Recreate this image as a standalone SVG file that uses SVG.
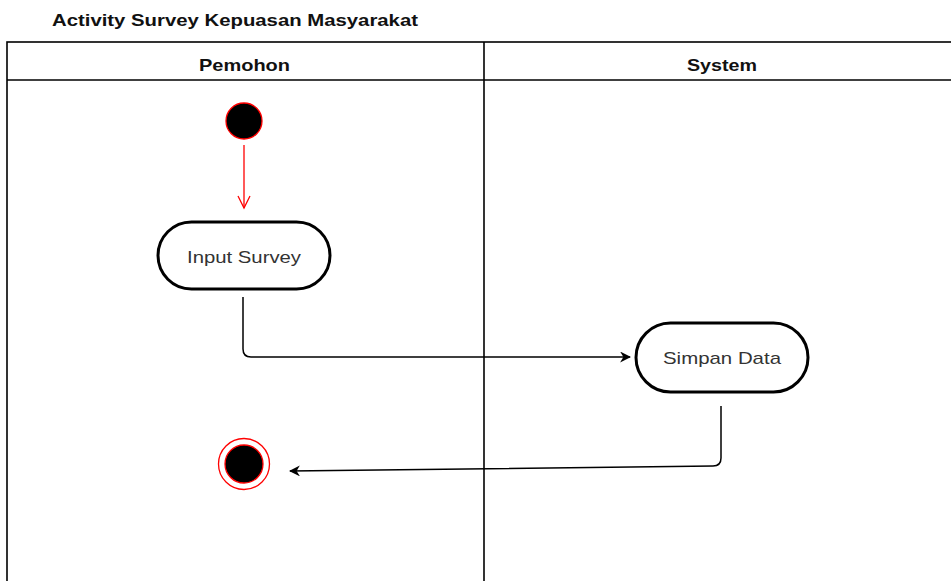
<svg xmlns="http://www.w3.org/2000/svg" width="951" height="581" viewBox="0 0 951 581">
<style>
text{font-family:"Liberation Sans",Arial,sans-serif;fill:#000}
.title{font-size:17px;font-weight:bold;fill:#111}
.hdr{font-size:17px;font-weight:bold;fill:#111}
.lbl{font-size:17px;fill:#333}
.lane{fill:#fff;stroke:#000;stroke-width:1.6}
.act{fill:#fff;stroke:#000;stroke-width:3}
.edge{fill:none;stroke:#000;stroke-width:1.5}
</style>
<defs>
<marker id="arr" viewBox="0 0 10 10" refX="9" refY="5" markerWidth="11" markerHeight="11" markerUnits="userSpaceOnUse" orient="auto">
<path d="M0,0 L10,5 L0,10 L3,5 Z" fill="#000"/>
</marker>
</defs>
<rect width="951" height="581" fill="#fff"/>
<text class="title" x="52" y="26" textLength="366" lengthAdjust="spacingAndGlyphs">Activity Survey Kepuasan Masyarakat</text>
<g id="pool">
<rect class="lane" x="7" y="42" width="960" height="560"/>
<line class="lane" x1="7" y1="80" x2="951" y2="80"/>
<line class="lane" x1="484" y1="42" x2="484" y2="581"/>
<text class="hdr" x="199" y="71" textLength="91" lengthAdjust="spacingAndGlyphs">Pemohon</text>
<text class="hdr" x="687" y="71" textLength="70" lengthAdjust="spacingAndGlyphs">System</text>
</g>
<g id="connectors">
<path d="M244,145 L244,208" fill="none" stroke="#ff0000" stroke-width="1.3"/>
<path d="M238,196 L244,208 L250,196" fill="none" stroke="#ff0000" stroke-width="1.3"/>
<path class="edge" d="M243,297 L243,349 Q243,357 251,357 L630,357" marker-end="url(#arr)"/>
<path class="edge" d="M721,406 L721,458 Q721,466 713,466 L290,471" marker-end="url(#arr)"/>
</g>
<g id="start">
<circle cx="244" cy="121" r="18" fill="#000" stroke="#ff0000" stroke-width="1.3"/>
</g>
<g id="input-survey">
<rect class="act" x="158" y="222" width="172" height="67" rx="33.5"/>
<text class="lbl" x="187" y="263" textLength="114" lengthAdjust="spacingAndGlyphs">Input Survey</text>
</g>
<g id="simpan-data">
<rect class="act" x="636" y="323" width="172" height="69" rx="34.5"/>
<text class="lbl" x="663" y="364" textLength="118" lengthAdjust="spacingAndGlyphs">Simpan Data</text>
</g>
<g id="end">
<circle cx="244" cy="464" r="25.5" fill="#fff" stroke="#ff0000" stroke-width="1.3"/>
<circle cx="244" cy="464" r="19" fill="#000" stroke="#ff0000" stroke-width="1.3"/>
</g>
</svg>
